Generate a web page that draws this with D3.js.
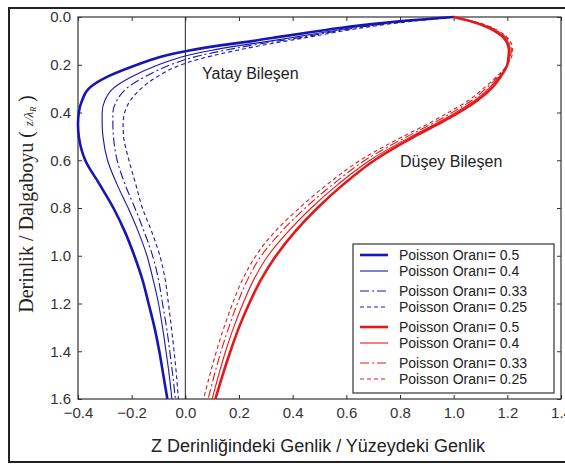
<!DOCTYPE html>
<meta charset="utf-8">
<title>genlik</title>
<style>
body { margin: 0; background: #fff; }
svg text { font-family: "Liberation Sans", Arial, sans-serif; }
</style>
<svg id="chart"></svg>
<script src="https://cdn.jsdelivr.net/npm/d3@7"></script>
<script>
// depth (z / lambda_R), shared by every curve
var depth = [0, 0.02, 0.04, 0.06, 0.08, 0.10, 0.12, 0.14, 0.16, 0.18, 0.2, 0.25, 0.3, 0.35, 0.4, 0.45, 0.5,
	0.6, 0.7, 0.8, 0.9, 1.0, 1.1, 1.2, 1.3, 1.4, 1.5, 1.6];

// horizontal component (Yatay)
var yatay05 = [1.0, 0.78, 0.615, 0.49, 0.37, 0.255, 0.125, 0.015, -0.07, -0.13, -0.18, -0.29, -0.36, -0.385, -0.397, -0.40, -0.397,
	-0.373, -0.32, -0.268, -0.225, -0.19, -0.16, -0.137, -0.115, -0.097, -0.082, -0.067];
var yatay04 = [1.0, 0.8, 0.65, 0.54, 0.43, 0.32, 0.2, 0.095, 0.01, -0.05, -0.10, -0.2, -0.27, -0.30, -0.31, -0.31, -0.307,
	-0.29, -0.255, -0.213, -0.175, -0.143, -0.12, -0.1, -0.085, -0.072, -0.06, -0.05];
var yatay033 = [1.0, 0.81, 0.67, 0.56, 0.46, 0.35, 0.24, 0.145, 0.06, -0.005, -0.055, -0.15, -0.22, -0.255, -0.27, -0.27, -0.268,
	-0.254, -0.225, -0.188, -0.153, -0.122, -0.1, -0.085, -0.07, -0.058, -0.047, -0.037];
var yatay025 = [1.0, 0.83, 0.69, 0.58, 0.48, 0.38, 0.28, 0.19, 0.11, 0.04, -0.015, -0.105, -0.165, -0.205, -0.226, -0.232, -0.23,
	-0.21, -0.185, -0.16, -0.125, -0.095, -0.075, -0.063, -0.052, -0.042, -0.033, -0.026];

// vertical component (Düşey)
var dusey05 = [1.0, 1.07, 1.12, 1.155, 1.18, 1.195, 1.203, 1.206, 1.205, 1.203, 1.2, 1.175, 1.14, 1.088, 1.02, 0.94, 0.855,
	0.705, 0.59, 0.492, 0.408, 0.338, 0.282, 0.238, 0.2, 0.168, 0.139, 0.112];
var dusey04 = [1.0, 1.07, 1.125, 1.16, 1.185, 1.2, 1.208, 1.21, 1.209, 1.205, 1.2, 1.17, 1.13, 1.078, 1.008, 0.928, 0.842,
	0.688, 0.57, 0.469, 0.382, 0.308, 0.255, 0.215, 0.18, 0.15, 0.124, 0.1];
var dusey033 = [1.0, 1.075, 1.13, 1.165, 1.19, 1.205, 1.213, 1.215, 1.213, 1.208, 1.2, 1.165, 1.12, 1.067, 0.995, 0.914, 0.828,
	0.67, 0.551, 0.447, 0.357, 0.283, 0.232, 0.194, 0.162, 0.133, 0.108, 0.085];
var dusey025 = [1.0, 1.08, 1.135, 1.17, 1.195, 1.21, 1.218, 1.22, 1.218, 1.21, 1.2, 1.16, 1.11, 1.055, 0.98, 0.9, 0.812,
	0.652, 0.53, 0.425, 0.333, 0.263, 0.213, 0.176, 0.144, 0.116, 0.091, 0.068];

var poisson = ["0.5", "0.4", "0.33", "0.25"];
var xTicks = [-0.4, -0.2, 0.0, 0.2, 0.4, 0.6, 0.8, 1.0, 1.2, 1.4];
var yTicks = [0.0, 0.2, 0.4, 0.6, 0.8, 1.0, 1.2, 1.4, 1.6];

var blue = "#1616b2", red = "#e3191c";
var styles = [
	{w: 2.6, dash: null},
	{w: 1.1, dash: null},
	{w: 1.1, dash: "9,3,2,3"},
	{w: 1.1, dash: "4,3"}
];
var series = [
	{vals: yatay05, color: blue, s: 0}, {vals: yatay04, color: blue, s: 1},
	{vals: yatay033, color: blue, s: 2}, {vals: yatay025, color: blue, s: 3},
	{vals: dusey05, color: red, s: 0}, {vals: dusey04, color: red, s: 1},
	{vals: dusey033, color: red, s: 2}, {vals: dusey025, color: red, s: 3}
];

var width = 565, height = 464;
var svg = d3.select("#chart").attr("width", width).attr("height", height);

// outer frame
svg.append("rect").attr("x", 9).attr("y", 8).attr("width", 570).attr("height", 454)
	.attr("fill", "none").attr("stroke", "#222").attr("stroke-width", 2);

var x = d3.scaleLinear().domain([-0.4, 1.4]).range([78, 561]);
var y = d3.scaleLinear().domain([0, 1.6]).range([17, 399]);

var axisStyle = function(g) {
	g.select(".domain").remove();
	g.selectAll(".tick line").attr("stroke", "#333");
	g.selectAll(".tick text").attr("fill", "#333").attr("font-size", 15)
		.attr("font-family", "Liberation Sans, Arial, sans-serif");
};

svg.append("g").attr("transform", "translate(0,399)")
	.call(d3.axisBottom(x).tickValues(xTicks).tickFormat(d3.format(".1f")).tickSizeInner(-4).tickSizeOuter(0).tickPadding(8))
	.call(axisStyle);
svg.append("g").attr("transform", "translate(0,17)")
	.call(d3.axisTop(x).tickValues(xTicks).tickFormat("").tickSizeInner(-4).tickSizeOuter(0))
	.call(axisStyle);
svg.append("g").attr("transform", "translate(78,0)")
	.call(d3.axisLeft(y).tickValues(yTicks).tickFormat(d3.format(".1f")).tickSizeInner(-4).tickSizeOuter(0).tickPadding(7))
	.call(axisStyle);
svg.append("g").attr("transform", "translate(561,0)")
	.call(d3.axisRight(y).tickValues(yTicks).tickFormat("").tickSizeInner(-4).tickSizeOuter(0))
	.call(axisStyle);

// plot box
svg.append("rect").attr("x", 78).attr("y", 17).attr("width", 483).attr("height", 382)
	.attr("fill", "none").attr("stroke", "#333").attr("stroke-width", 1.2);

// zero line
svg.append("line").attr("x1", x(0)).attr("x2", x(0)).attr("y1", y(0)).attr("y2", y(1.6))
	.attr("stroke", "#222").attr("stroke-width", 1);

var line = d3.line()
	.x(function(d) { return x(d[0]); })
	.y(function(d) { return y(d[1]); })
	.curve(d3.curveMonotoneY);

var order = [3, 2, 1, 0, 7, 6, 5, 4];
order.forEach(function(i) {
	var sr = series[i];
	var st = styles[sr.s];
	svg.append("path")
		.attr("d", line(sr.vals.map(function(v, k) { return [v, depth[k]]; })))
		.attr("fill", "none")
		.attr("stroke", sr.color)
		.attr("stroke-width", st.w)
		.attr("stroke-dasharray", st.dash);
});

// curve labels
svg.append("text").attr("x", 202).attr("y", 79).attr("font-size", 16).attr("fill", "#222").text("Yatay Bileşen");
svg.append("text").attr("x", 400).attr("y", 167).attr("font-size", 16).attr("fill", "#222").text("Düşey Bileşen");

// legend
var legend = svg.append("g");
legend.append("rect").attr("x", 353).attr("y", 244).attr("width", 201).attr("height", 149)
	.attr("fill", "#fff").attr("stroke", "#333").attr("stroke-width", 1.2);
var rowY = [255, 271, 291, 307, 327, 343, 363, 379];
series.forEach(function(sr, i) {
	var st = styles[sr.s];
	legend.append("line").attr("x1", 360).attr("x2", 388).attr("y1", rowY[i]).attr("y2", rowY[i])
		.attr("stroke", sr.color).attr("stroke-width", st.w).attr("stroke-dasharray", st.dash);
	legend.append("text").attr("x", 399).attr("y", rowY[i] + 5).attr("font-size", 14).attr("fill", "#222")
		.text("Poisson Oranı= " + poisson[sr.s]);
});

// axis titles
svg.append("text").attr("x", 318).attr("y", 452).attr("text-anchor", "middle")
	.attr("font-size", 18).attr("fill", "#222").text("Z Derinliğindeki Genlik / Yüzeydeki Genlik");

var yt = svg.append("text").attr("transform", "translate(33,204) rotate(-90)")
	.attr("text-anchor", "middle").attr("fill", "#222")
	.style("font-family", "Liberation Serif, Times New Roman, serif").attr("font-size", 20);
yt.append("tspan").text("Derinlik / Dalgaboyu ( ");
yt.append("tspan").attr("font-size", 13).attr("font-style", "italic").text("z/λ");
yt.append("tspan").attr("font-size", 8).attr("font-style", "italic").attr("dy", 3).text("R");
yt.append("tspan").attr("dy", -3).text(" )");
</script>
